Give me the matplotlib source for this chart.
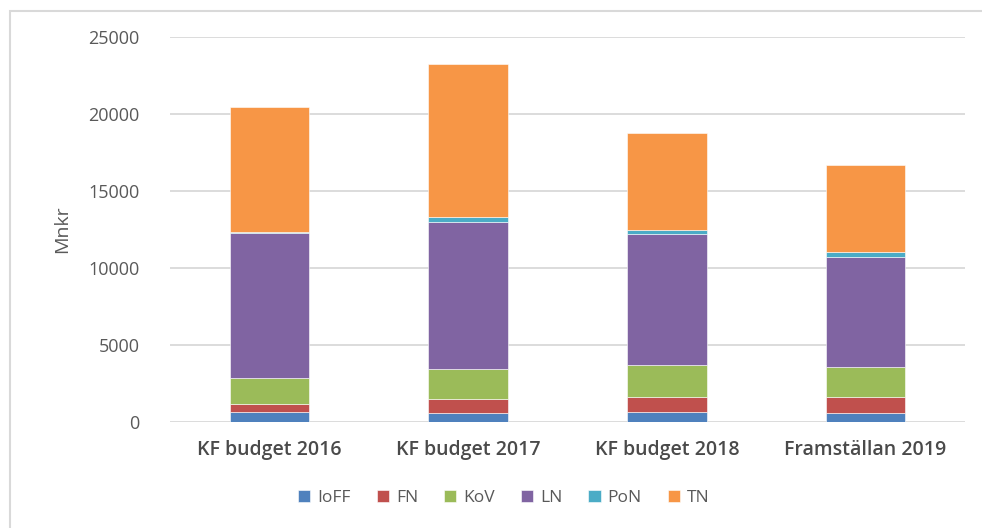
import numpy as np
import matplotlib
matplotlib.use('Agg')
import matplotlib.pyplot as plt
from matplotlib.patches import Rectangle

plt.rcParams['font.family'] = ['Open Sans', 'DejaVu Sans']

categories = ['KF budget 2016', 'KF budget 2017', 'KF budget 2018', 'Framställan 2019']
series_names = ['IoFF', 'FN', 'KoV', 'LN', 'PoN', 'TN']
IoFF = [650, 560, 670, 560]
FN = [550, 910, 930, 1040]
KoV = [1680, 1950, 2080, 1950]
LN = [9370, 9570, 8510, 7180]
PoN = [110, 300, 280, 310]
TN = [8090, 9960, 6300, 5650]
colors = ['#4F81BD', '#C0504D', '#9BBB59', '#8064A2', '#4BACC6', '#F79646']

fig = plt.figure(figsize=(9.82, 5.28), dpi=100)
ax = fig.add_axes([170 / 982, 1 - 422 / 528, 795 / 982, 385 / 528])

x = np.arange(len(categories))
bottom = np.zeros(len(categories))
for name, vals, c in zip(series_names, [IoFF, FN, KoV, LN, PoN, TN], colors):
    ax.bar(x, vals, 0.40, bottom=bottom, color=c, label=name,
           edgecolor='white', linewidth=0.4, zorder=3)
    bottom += np.array(vals)

ax.set_xlim(-0.5, len(categories) - 0.5)
ax.set_ylim(0, 25000)
ax.set_yticks(np.arange(0, 25001, 5000))
ax.set_xticks(x)
ax.set_xticklabels(categories, fontsize=14, color='#4a4a4a', fontweight='semibold')
ax.tick_params(axis='y', labelsize=13, colors='#595959', length=0, pad=22)
ax.tick_params(axis='x', length=0, pad=13)
ax.grid(axis='y', color='#D9D9D9', linewidth=1.3, zorder=0)
for s in ax.spines.values():
    s.set_visible(False)
ax.set_ylabel('Mnkr', fontsize=14, color='#595959', labelpad=12)

ax.legend(loc='upper center', bbox_to_anchor=(0.42, -0.135), ncol=6, frameon=False,
          fontsize=12.5, labelcolor='#595959', handlelength=0.7, handleheight=0.7,
          handletextpad=0.4, columnspacing=1.5)

fig.patches.append(Rectangle((10 / 982, -0.1), 1.1, 1.1 - 11 / 528, transform=fig.transFigure,
                             fill=False, edgecolor='#D9D9D9', linewidth=1.5))

fig.savefig('out.png', dpi=100)
